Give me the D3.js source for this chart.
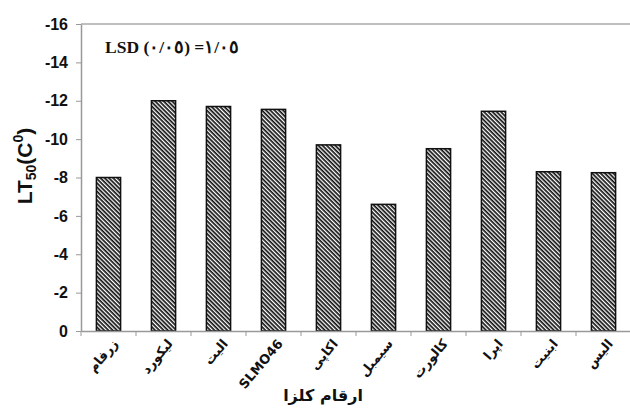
<!DOCTYPE html>
<html><head><meta charset="utf-8">
<script src="https://cdn.jsdelivr.net/npm/d3@7"></script>
<style>body{margin:0;background:#fff}svg{display:block}</style>
</head><body>
<svg id="c" width="630" height="412"></svg>
<script>
const categories = ["زرفام","لیکورد","الیت","SLMO46","اکاپی","سیمبل","کالورت","اپرا","ابنیت","الیس"];
const values = [-8.0,-12.0,-11.7,-11.55,-9.7,-6.6,-9.5,-11.45,-8.3,-8.25];
const yTicks = [0,-2,-4,-6,-8,-10,-12,-14,-16];
const lsdText = "LSD (٠/٠٥) =١/٠٥";
const xTitle = "ارقام کلزا";

const svg = d3.select("#c");
const m = {l:81, t:24, r:631, b:331};
const x = d3.scaleBand().domain(categories).range([m.l, m.r]).paddingInner(0.56).paddingOuter(0.28);
const y = d3.scaleLinear().domain([0,-16]).range([m.b, m.t]);

const defs = svg.append("defs");
const pat = defs.append("pattern").attr("id","hatch").attr("patternUnits","userSpaceOnUse")
  .attr("width",3).attr("height",3).attr("patternTransform","rotate(45)");
pat.append("rect").attr("width",3).attr("height",3).attr("fill","#fff");
pat.append("rect").attr("width",3).attr("height",1.7).attr("fill","#111");

// top border
svg.append("line").attr("x1",m.l).attr("x2",630).attr("y1",m.t).attr("y2",m.t)
  .attr("stroke","#aaa").attr("stroke-width",1.5);

// bars
svg.append("g").selectAll("rect").data(values).join("rect")
  .attr("x",(d,i)=>x(categories[i]))
  .attr("width",x.bandwidth())
  .attr("y",d=>y(d))
  .attr("height",d=>y(0)-y(d))
  .attr("fill","url(#hatch)").attr("stroke","#111").attr("stroke-width",1.5);

// y axis
const ya = svg.append("g").attr("transform",`translate(${m.l},0)`)
  .call(d3.axisLeft(y).tickValues(yTicks).tickFormat(d=>String(d)).tickSize(5).tickSizeOuter(0));
ya.select(".domain").attr("stroke","#999").attr("stroke-width",1.5);
ya.selectAll(".tick line").attr("stroke","#999");
ya.selectAll(".tick text").attr("font-family","Liberation Sans, Arial, sans-serif")
  .attr("font-weight","bold").attr("font-size",16).attr("fill","#111").attr("x",-13);

// x axis
const bandStep = x.step();
const xa = svg.append("g").attr("transform",`translate(0,${m.b})`)
  .call(d3.axisBottom(x).tickSize(0).tickFormat(""));
xa.select(".domain").attr("stroke","#999").attr("stroke-width",1.5);
const bounds = d3.range(categories.length+1).map(i=>m.l + i*bandStep);
xa.selectAll(".sep").data(bounds).join("line").attr("class","sep")
  .attr("x1",d=>d).attr("x2",d=>d).attr("y1",0).attr("y2",5).attr("stroke","#999");
xa.selectAll(".tick").append("text")
  .text(d=>d)
  .attr("text-anchor","end")
  .attr("transform","translate(10,13) rotate(-50)")
  .attr("font-family","DejaVu Sans, sans-serif").attr("font-weight","bold")
  .attr("font-size",13).attr("fill","#111");

// titles
svg.append("text").attr("transform","translate(32,166) rotate(-90)")
  .attr("text-anchor","middle").attr("font-family","Liberation Sans, Arial, sans-serif")
  .attr("font-weight","bold").attr("font-size",21).attr("fill","#111")
  .call(t=>{
    t.append("tspan").text("LT");
    t.append("tspan").text("50").attr("font-size",14).attr("dy",4);
    t.append("tspan").text("(C").attr("dy",-4);
    t.append("tspan").text("0").attr("font-size",14).attr("dy",-9);
    t.append("tspan").text(")").attr("dy",9);
  });

svg.append("text").attr("x",323).attr("y",401).attr("text-anchor","middle")
  .attr("font-family","DejaVu Sans, sans-serif").attr("font-weight","bold")
  .attr("font-size",16).attr("fill","#111").attr("direction","rtl").text(xTitle);

svg.append("text").attr("x",105).attr("y",53)
  .attr("font-family","Liberation Serif, Times New Roman, serif").attr("font-weight","bold")
  .attr("font-size",17.5).attr("fill","#111").text(lsdText);
</script>
</body></html>
